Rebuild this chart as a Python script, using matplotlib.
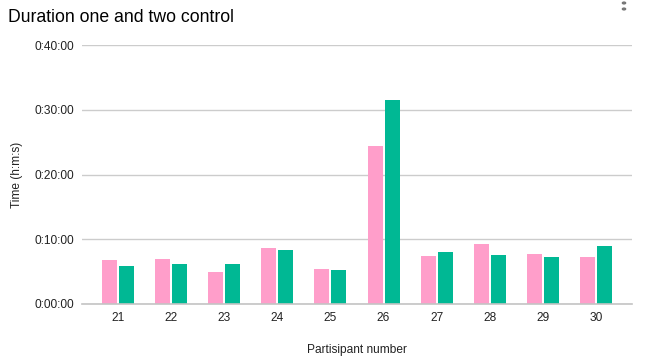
import matplotlib
matplotlib.use("Agg")
import matplotlib.pyplot as plt
import numpy as np
from matplotlib.ticker import FuncFormatter
from matplotlib.patches import Circle

participants = ["21", "22", "23", "24", "25", "26", "27", "28", "29", "30"]
# durations in minutes
duration_one = [6.78, 6.93, 4.93, 8.63, 5.39, 24.35, 7.40, 9.24, 7.70, 7.24]
duration_two = [5.86, 6.16, 6.16, 8.32, 5.24, 31.43, 8.00, 7.55, 7.24, 8.94]
y_ticks_min = [0, 10, 20, 30, 40]

pink = "#FF9ECA"
green = "#00B894"

plt.rcParams['font.family'] = ['Liberation Sans', 'DejaVu Sans']

fig = plt.figure(figsize=(6.46, 3.59), dpi=100)
ax = fig.add_axes([82/646, 1-304/359, 550/646, 259/359])

x = np.arange(len(participants))
w = 0.282
off = 0.16
ax.bar(x - off, duration_one, width=w, color=pink, zorder=3)
ax.bar(x + off, duration_two, width=w, color=green, zorder=3)

ax.set_xlim(-0.678, len(participants) - 1 + 0.678)
ax.set_ylim(0, 40)
ax.set_yticks(y_ticks_min)

def fmt(v, pos):
    m = int(round(v))
    return f"{m // 60}:{m % 60:02d}:00"

ax.yaxis.set_major_formatter(FuncFormatter(fmt))
ax.set_xticks(x)
ax.set_xticklabels(participants)

for s in ax.spines.values():
    s.set_visible(False)
ax.grid(axis='y', color='#cccccc', linewidth=1, zorder=0)
ax.axhline(0, color='#c4c4c4', linewidth=1.2, zorder=4, clip_on=False)
ax.tick_params(axis='both', length=0, labelsize=8.6, colors='#222222')
ax.tick_params(axis='y', pad=6)
ax.tick_params(axis='x', pad=6)

ax.set_ylabel("Time (h:m:s)", fontsize=8.6, color='#222222', labelpad=8)
ax.set_xlabel("Partisipant number", fontsize=8.6, color='#222222', labelpad=14)

fig.text(8/646, 1-18/359, "Duration one and two control", fontsize=12.7, color='#000000',
         ha='left', va='center')

for yy in (3, 9):
    fig.patches.append(Circle((624/646, 1-yy/359), 1.6/646, transform=fig.transFigure,
                              color='#777777', zorder=5))

fig.savefig("out.png", dpi=100, facecolor='white')
